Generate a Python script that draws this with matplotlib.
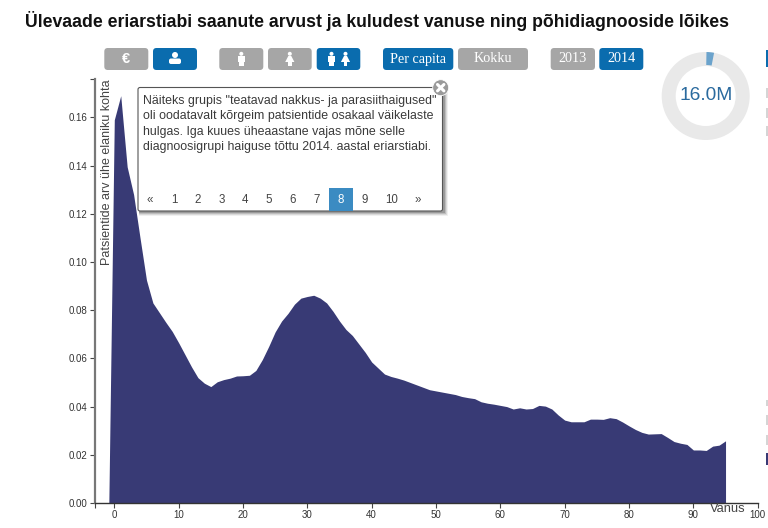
import matplotlib
matplotlib.use("Agg")
import matplotlib.pyplot as plt
from matplotlib.patches import FancyBboxPatch, Rectangle, Wedge, Circle

TITLE = "Ülevaade eriarstiabi saanute arvust ja kuludest vanuse ning põhidiagnooside lõikes"
ages = [-0.85] + list(range(0, 96))
patients = [0, 0.159, 0.169, 0.1395, 0.128, 0.110, 0.0925, 0.083, 0.079, 0.075, 0.0712,
            0.0665, 0.0615, 0.0565, 0.052, 0.0497, 0.0483, 0.0503, 0.0512, 0.0518, 0.0527,
            0.0528, 0.053, 0.055, 0.0595, 0.065, 0.071, 0.0755, 0.0787, 0.0825, 0.085,
            0.0857, 0.0862, 0.085, 0.083, 0.0795, 0.0755, 0.072, 0.0695, 0.066, 0.0625,
            0.0585, 0.056, 0.0535, 0.0525, 0.0518, 0.051, 0.050, 0.049, 0.048, 0.047,
            0.0465, 0.046, 0.0455, 0.045, 0.0442, 0.0437, 0.0433, 0.042, 0.0414, 0.041,
            0.0405, 0.040, 0.039, 0.0395, 0.039, 0.0392, 0.0405, 0.0402, 0.039, 0.0365,
            0.0344, 0.0337, 0.0337, 0.0337, 0.0348, 0.0348, 0.0347, 0.0354, 0.035, 0.0336,
            0.032, 0.0305, 0.0293, 0.0286, 0.0287, 0.0288, 0.0272, 0.0255, 0.0248, 0.0243,
            0.022, 0.022, 0.0218, 0.0236, 0.024, 0.0258]
x_ticks = list(range(0, 101, 10))
y_ticks = [0.00, 0.02, 0.04, 0.06, 0.08, 0.10, 0.12, 0.14, 0.16]
y_label = "Patsientide arv ühe elaniku kohta"
x_label = "Vanus"
popup_lines = ['Näiteks grupis "teatavad nakkus- ja parasiithaigused"',
               'oli oodatavalt kõrgeim patsientide osakaal väikelaste',
               'hulgas. Iga kuues üheaastane vajas mõne selle',
               'diagnoosigrupi haiguse tõttu 2014. aastal eriarstiabi.']
pages = ["«", "1", "2", "3", "4", "5", "6", "7", "8", "9", "10", "»"]
page_x = [150, 174, 197.5, 221.5, 245, 269, 293, 316.5, 340.5, 364.5, 391.5, 418]
donut_label = "16.0M"

AREA = "#383a75"; BLUE = "#0a6cae"; GRAY = "#a6a6a6"
SANS = "Liberation Sans"; SERIF = "Liberation Serif"
W, H = 768, 528
fig = plt.figure(figsize=(W / 100, H / 100), dpi=100, facecolor="white")
L, R, T, B = 95, 757.7, 79, 503
ax = fig.add_axes([L / W, 1 - B / H, (R - L) / W, (B - T) / H])
ax.set_xlim(-3, 100)
ax.set_ylim(0, (B - T) / 2410)
ax.fill_between(ages, patients, 0, color=AREA, lw=0)
ax.set_xticks(x_ticks)
ax.set_yticks(y_ticks)
ax.set_yticklabels([f"{v:.2f}" for v in y_ticks])
ax.set_xticks([-3], minor=True)
ax.set_yticks([(B - T) / 2410], minor=True)
ax.tick_params(which="both", length=3.6, width=0.8, color="#444", labelsize=7,
               labelcolor="#333", pad=1.6)
for lab in ax.get_xticklabels() + ax.get_yticklabels():
    lab.set_family(SANS)
for s in ("top", "right"):
    ax.spines[s].set_visible(False)
ax.spines["left"].set_color("#777777"); ax.spines["left"].set_linewidth(1.6)
ax.spines["bottom"].set_color("#333333"); ax.spines["bottom"].set_linewidth(1)

ui = fig.add_axes([0, 0, 1, 1], facecolor="none", zorder=5)
ui.set_xlim(0, W); ui.set_ylim(H, 0); ui.axis("off")

ui.text(25, 21, TITLE, family=SANS, weight="bold", fontsize=12.69, color="#111", va="center")
ui.text(106.5, 172, y_label, family=SANS, fontsize=9.0, rotation=90, color="#444",
        ha="center", va="center")
ui.text(727.5, 509, x_label, family=SANS, fontsize=9.3, color="#444", ha="center", va="center")

def button(x0, x1, on, label=None):
    ui.add_patch(FancyBboxPatch((x0 + 3, 51), x1 - x0 - 6, 16, boxstyle="round,pad=3,rounding_size=3.5",
                                fc=BLUE if on else GRAY, ec="none"))
    if label:
        ui.text((x0 + x1) / 2, 59, label, family=SERIF, fontsize=10.2, color="white",
                ha="center", va="center")

def man(cx, cy=59):
    ui.add_patch(Circle((cx, cy - 5.2), 2, fc="white", ec="none"))
    ui.add_patch(Rectangle((cx - 3.5, cy - 2.8), 7, 5.5, fc="white", ec="none"))
    ui.add_patch(Rectangle((cx - 2.2, cy + 2), 4.4, 4.8, fc="white", ec="none"))

def woman(cx, cy=59):
    ui.add_patch(Circle((cx, cy - 5.2), 2, fc="white", ec="none"))
    ui.fill([cx - 1.5, cx + 1.5, cx + 4.6, cx - 4.6], [cy - 3, cy - 3, cy + 3, cy + 3], fc="white", ec="none")
    ui.add_patch(Rectangle((cx - 1.7, cy + 3), 3.4, 3.5, fc="white", ec="none"))

button(104.3, 148.3, False)
ui.text(126.3, 59, "€", family=SANS, weight="bold", fontsize=10.5, color="white", ha="center", va="center")
button(153, 197, True)
ui.add_patch(Circle((175, 55), 3, fc="white", ec="none"))
ui.add_patch(FancyBboxPatch((170, 59.5), 10, 3.5, boxstyle="round,pad=1,rounding_size=2", fc="white", ec="none"))
button(219.3, 263.3, False); man(241.3)
button(268, 311.7, False); woman(289.8)
button(316.7, 360.3, True); man(331.5); woman(345.5)
button(383, 453.3, True, "Per capita")
button(458, 528, False, "Kokku")
button(550.7, 595, False, "2013")
button(599.3, 643.3, True, "2014")

# donut
ui.add_patch(Wedge((705.7, 96), 44, 0, 360, width=14, fc="#e9e9e9", ec="none"))
ui.add_patch(Wedge((705.7, 96), 44, -89, -79, width=13, fc="#6ba3cc", ec="none"))
ui.text(705.7, 95, donut_label, family=SANS, fontsize=13.8, color="#2a6a9e", ha="center", va="center")

# popup
for off, alpha in ((4, 0.06), (3, 0.09), (2, 0.13), (1, 0.18)):
    ui.add_patch(Rectangle((137.7 + 1, 87.3 + 1), 305 + off, 123.7 + off, fc="black", ec="none", alpha=alpha))
ui.add_patch(FancyBboxPatch((138.5, 88), 303.5, 122.5, boxstyle="round,pad=0.5,rounding_size=2",
                            fc="white", ec="#555555", lw=0.8))
for y, line in zip((100.7, 116, 131.7, 147.3), popup_lines):
    ui.text(142.7, y, line, family=SANS, fontsize=8.9, color="#3a3a3a", va="center")
ui.add_patch(Rectangle((328.7, 188), 24, 23, fc="#3b8bc2", ec="none"))
for x, p in zip(page_x, pages):
    ui.text(x, 200, p, family=SANS, fontsize=8.3, color="white" if p == "8" else "#444",
            ha="center", va="center")
ui.add_patch(Circle((440.7, 87.7), 8, fc="#9a9a9a", ec="white", lw=0.6))
ui.plot([437.5, 443.9], [84.5, 90.9], color="white", lw=2.2, solid_capstyle="round")
ui.plot([437.5, 443.9], [90.9, 84.5], color="white", lw=2.2, solid_capstyle="round")

# cropped legend swatches at the right edge
for y0, y1, c in ((50, 67, BLUE), (88, 98, "#d5d5d5"), (108, 118, "#d5d5d5"), (126, 136, "#d5d5d5"),
                  (400, 406, "#d5d5d5"), (415, 425, "#d5d5d5"), (435, 445, "#d5d5d5"), (453, 465, AREA)):
    ui.add_patch(Rectangle((766, y0), 3, y1 - y0, fc=c, ec="none"))

fig.savefig("out.png", dpi=100)
